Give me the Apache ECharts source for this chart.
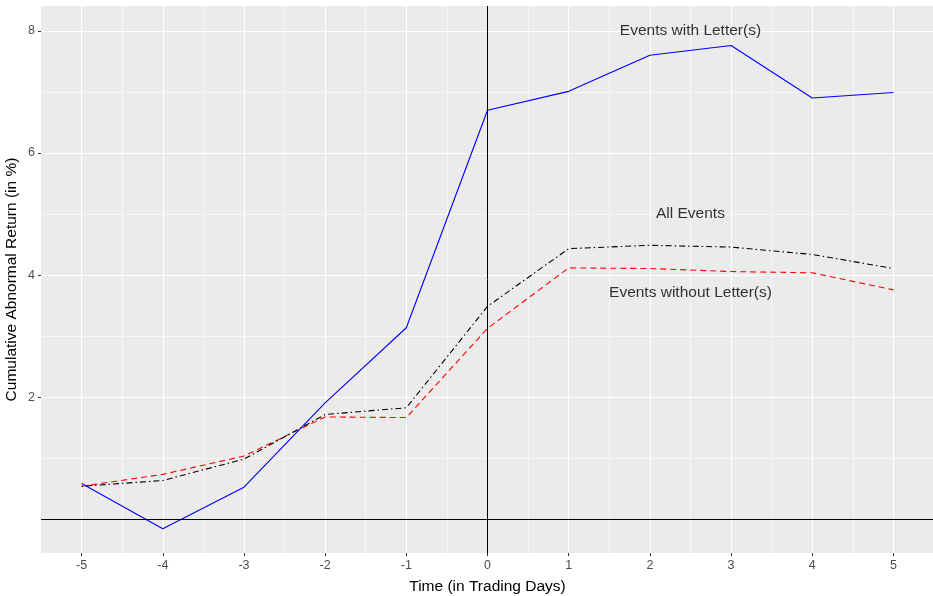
<!DOCTYPE html>
<html>
<head>
<meta charset="utf-8">
<script src="https://cdn.jsdelivr.net/npm/echarts@6/dist/echarts.min.js"></script>
<style>
html,body{margin:0;padding:0;background:#fff;}
#chart{width:933px;height:596px;}
</style>
</head>
<body>
<div id="chart"></div>
<script>
// ---- data ----
var days = [-5, -4, -3, -2, -1, 0, 1, 2, 3, 4, 5];
var withLetter    = [0.59, -0.15, 0.53, 1.91, 3.14, 6.70, 7.01, 7.60, 7.76, 6.90, 6.99];
var allEvents     = [0.545, 0.64, 0.99, 1.72, 1.83, 3.49, 4.435, 4.49, 4.46, 4.34, 4.11];
var withoutLetter = [0.545, 0.74, 1.04, 1.68, 1.67, 3.13, 4.12, 4.11, 4.06, 4.04, 3.76];

var xTicks = [-5, -4, -3, -2, -1, 0, 1, 2, 3, 4, 5];
var xMinor = [-4.5, -3.5, -2.5, -1.5, -0.5, 0.5, 1.5, 2.5, 3.5, 4.5];
var yTicks = [2, 4, 6, 8];
var yMinor = [1, 3, 5, 7];

var annoText = ['Events with Letter(s)', 'All Events', 'Events without Letter(s)'];
var annoX = [2.5, 2.5, 2.5];
var annoY = [8, 5, 3.72];

function pairs(xs, ys) { return xs.map(function (x, i) { return [x, ys[i]]; }); }

var chart = echarts.init(document.getElementById('chart'), null, {renderer: 'canvas'});
var FONT = 'Liberation Sans, Arial, sans-serif';
var xMin = -5.5, xMax = 5.5, yMin = -0.547, yMax = 8.407;

var option = {
  animation: false,
  backgroundColor: '#ffffff',
  grid: {left: 41, right: -1, top: 6, bottom: 43, show: true, backgroundColor: '#EBEBEB', borderWidth: 0,
         containLabel: false, outerBoundsMode: 'none'},
  xAxis: [{
    type: 'value', min: xMin, max: xMax,
    name: 'Time (in Trading Days)', nameLocation: 'middle', nameGap: 26,
    nameTextStyle: {color: '#000', fontSize: 15.5, fontFamily: FONT},
    axisLine: {show: false, onZero: false},
    axisTick: {show: true, length: 3, customValues: xTicks, lineStyle: {color: '#333333', width: 1}},
    axisLabel: {customValues: xTicks, color: '#4D4D4D', fontSize: 12.5, fontFamily: FONT, margin: 6},
    splitLine: {show: true, lineStyle: {color: '#ffffff', width: 1.1}}
  }, {
    type: 'value', min: xMin, max: xMax, position: 'bottom',
    axisLine: {show: false, onZero: false},
    axisTick: {show: false, customValues: xMinor},
    axisLabel: {show: false, customValues: xMinor},
    splitLine: {show: true, lineStyle: {color: '#ffffff', width: 0.55}}
  }],
  yAxis: [{
    type: 'value', min: yMin, max: yMax,
    name: 'Cumulative Abnormal Return (in %)', nameLocation: 'middle', nameGap: 21,
    nameMoveOverlap: false,
    nameTextStyle: {color: '#000', fontSize: 15.5, fontFamily: FONT},
    axisLine: {show: false, onZero: false},
    axisTick: {show: true, length: 3, customValues: yTicks, lineStyle: {color: '#333333', width: 1}},
    axisLabel: {customValues: yTicks, color: '#4D4D4D', fontSize: 12.5, fontFamily: FONT, margin: 6},
    splitLine: {show: true, lineStyle: {color: '#ffffff', width: 1.1}}
  }, {
    type: 'value', min: yMin, max: yMax, position: 'left',
    axisLine: {show: false, onZero: false},
    axisTick: {show: false, customValues: yMinor},
    axisLabel: {show: false, customValues: yMinor},
    splitLine: {show: true, lineStyle: {color: '#ffffff', width: 0.55}}
  }],
  series: [{
    type: 'line', name: 'Events without Letter(s)', data: pairs(days, withoutLetter),
    symbol: 'none', lineStyle: {color: '#FF0000', width: 1.1, type: [6, 4]}, z: 3
  }, {
    type: 'line', name: 'All Events', data: pairs(days, allEvents),
    symbol: 'none', lineStyle: {color: '#000000', width: 1.1, type: [1.5, 3, 6, 3]}, z: 3
  }, {
    type: 'line', name: 'Events with Letter(s)', data: pairs(days, withLetter),
    symbol: 'none', lineStyle: {color: '#0000FF', width: 1.1}, z: 3,
    markLine: {
      silent: true, symbol: 'none', label: {show: false},
      lineStyle: {color: '#000000', width: 1, type: 'solid'},
      data: [{xAxis: 0}, {yAxis: 0}]
    }
  }, {
    type: 'scatter', symbolSize: 0, z: 5,
    data: annoText.map(function (t, i) { return {value: [annoX[i], annoY[i]], name: t}; }),
    label: {show: true, position: 'inside', formatter: function (p) { return p.name; },
      color: '#000000', fontSize: 15.5, fontFamily: FONT}
  }]
};
chart.setOption(option);
</script>
</body>
</html>
